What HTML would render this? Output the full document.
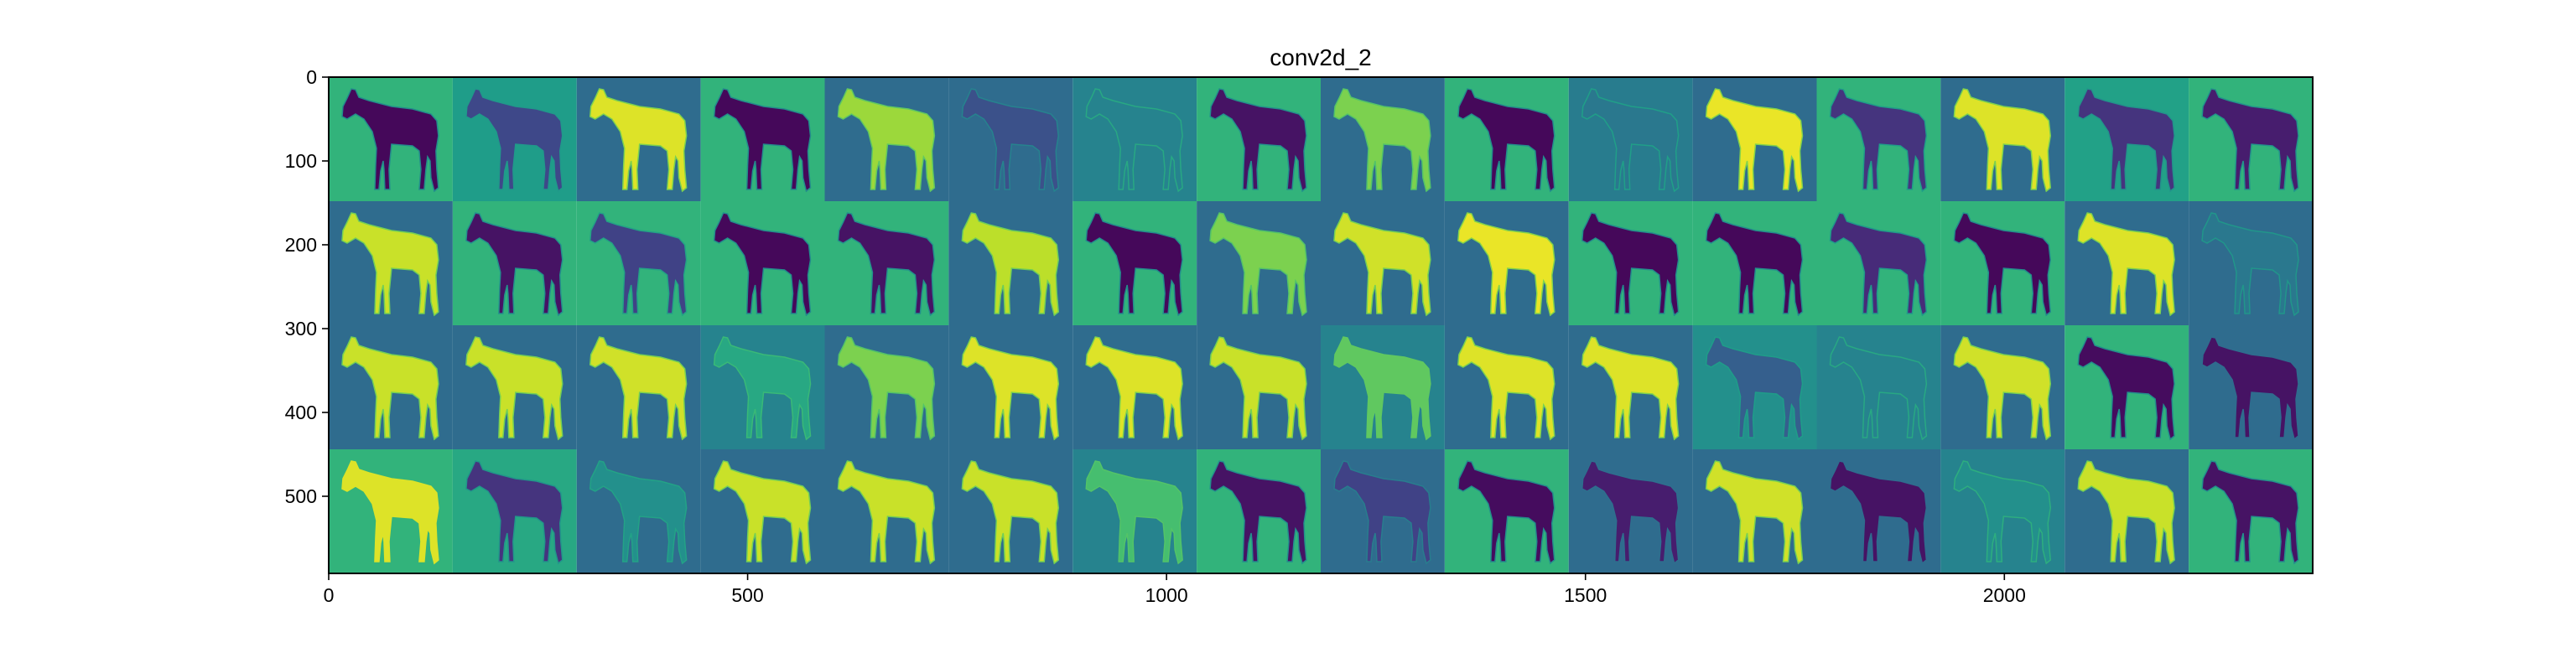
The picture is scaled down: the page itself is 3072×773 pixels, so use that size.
<!DOCTYPE html>
<html><head><meta charset="utf-8"><style>
body{margin:0;background:#fff}
svg text{font-family:"Liberation Sans","DejaVu Sans",sans-serif;fill:#000}
</style></head><body>
<svg id="chart" width="3072" height="768" viewBox="0 0 3072 768" xmlns="http://www.w3.org/2000/svg">
<defs>
<path id="horse" d="M27,14 L32,15 L36,24 L48,28 L75,35 L100,38 L122,44 L129,52 L131,70 L128,88 L129,110 L131,132 L126,136 L122,120 L121,100 L118,95 L116,110 L114,134 L108,134 L110,110 L108,88 L100,82 L75,80 L72,110 L73,134 L67,134 L66,110 L65,100 L62,112 L60,134 L55,134 L56,105 L57,85 L52,65 L42,50 L32,44 L22,50 L16,47 L17,35 L22,25 Z"/>
</defs>
<text x="1575" y="78" font-size="28" text-anchor="middle">conv2d_2</text>
<g id="tiles"></g>
<g id="axes"></g>
</svg>
<script>
// viridis fractions per tile (rows of 16)
const bgValues = [
 [0.65,0.55,0.35,0.65,0.35,0.35,0.45,0.65,0.35,0.65,0.42,0.35,0.65,0.35,0.57,0.65],
 [0.35,0.65,0.65,0.65,0.65,0.35,0.65,0.35,0.35,0.35,0.65,0.65,0.65,0.65,0.35,0.35],
 [0.35,0.35,0.35,0.45,0.35,0.35,0.35,0.35,0.45,0.35,0.35,0.5,0.45,0.35,0.65,0.35],
 [0.65,0.6,0.35,0.35,0.35,0.35,0.45,0.65,0.35,0.65,0.35,0.35,0.35,0.45,0.35,0.65]
];
const horseValues = [
 [0.02,0.22,0.95,0.02,0.85,0.25,0.45,0.05,0.8,0.02,0.4,0.97,0.15,0.95,0.15,0.08],
 [0.92,0.05,0.2,0.02,0.05,0.9,0.02,0.8,0.93,0.97,0.02,0.02,0.12,0.02,0.95,0.4],
 [0.92,0.92,0.93,0.6,0.8,0.95,0.95,0.92,0.75,0.95,0.95,0.3,0.45,0.93,0.03,0.05],
 [0.95,0.15,0.5,0.92,0.92,0.92,0.7,0.05,0.2,0.03,0.08,0.93,0.05,0.5,0.92,0.05]
];
const xTicks = [0,500,1000,1500,2000];
const yTicks = [0,100,200,300,400,500];
const tileSize = 148, dataW = 2368, dataH = 592;
const X0 = 392, Y0 = 92, PW = 2366, PH = 592;
const sx = v => X0 + v / dataW * PW;
const sy = v => Y0 + v / dataH * PH;
const stops = ["#440154","#482878","#3e4989","#31688e","#26828e","#1f9e89","#35b779","#6ece58","#b5de2b","#fde725"];
function viridis(t){
  t = Math.max(0, Math.min(1, t)) * (stops.length - 1);
  const i = Math.min(stops.length - 2, Math.floor(t)), f = t - i;
  const a = stops[i], b = stops[i+1];
  const c = k => Math.round(parseInt(a.substr(k,2),16)*(1-f) + parseInt(b.substr(k,2),16)*f);
  return `rgb(${c(1)},${c(3)},${c(5)})`;
}
const NS = "http://www.w3.org/2000/svg";
const tiles = document.getElementById('tiles');
bgValues.forEach((row, r) => row.forEach((bv, c) => {
  const g = document.createElementNS(NS, 'g');
  
  
  const x = sx(c * tileSize), y = sy(r * tileSize), w = sx((c+1)*tileSize) - x, h = sy((r+1)*tileSize) - y;
  g.setAttribute('transform', `translate(${x},${y})`);
  const rect = document.createElementNS(NS, 'rect');
  rect.setAttribute('width', w); rect.setAttribute('height', h);
  rect.setAttribute('fill', viridis(bv));
  g.appendChild(rect);
  const u = document.createElementNS(NS, 'use');
  u.setAttribute('href', '#horse');
  u.setAttribute('transform', `scale(${w/148},${h/148})`);
  u.setAttribute('fill', viridis(horseValues[r][c]));
  u.setAttribute('stroke', viridis((horseValues[r][c] + bv) / 2 + 0.15));
  u.setAttribute('stroke-width', '1.5');
  g.appendChild(u);
  tiles.appendChild(g);
}));
const axes = document.getElementById('axes');
let s = `<rect x="${X0}" y="${Y0}" width="${PW}" height="${PH}" fill="none" stroke="#000" stroke-width="2"/>`;
xTicks.forEach(v => {
  s += `<line x1="${sx(v)}" x2="${sx(v)}" y1="${Y0+PH}" y2="${Y0+PH+8}" stroke="#000" stroke-width="1.6"/>`;
  s += `<text x="${sx(v)}" y="${Y0+PH+34}" font-size="23" text-anchor="middle">${v}</text>`;
});
yTicks.forEach(v => {
  s += `<line x1="${X0-8}" x2="${X0}" y1="${sy(v)}" y2="${sy(v)}" stroke="#000" stroke-width="1.6"/>`;
  s += `<text x="${X0-14}" y="${sy(v)+8}" font-size="23" text-anchor="end">${v}</text>`;
});
axes.innerHTML = s;
</script>
</body></html>
